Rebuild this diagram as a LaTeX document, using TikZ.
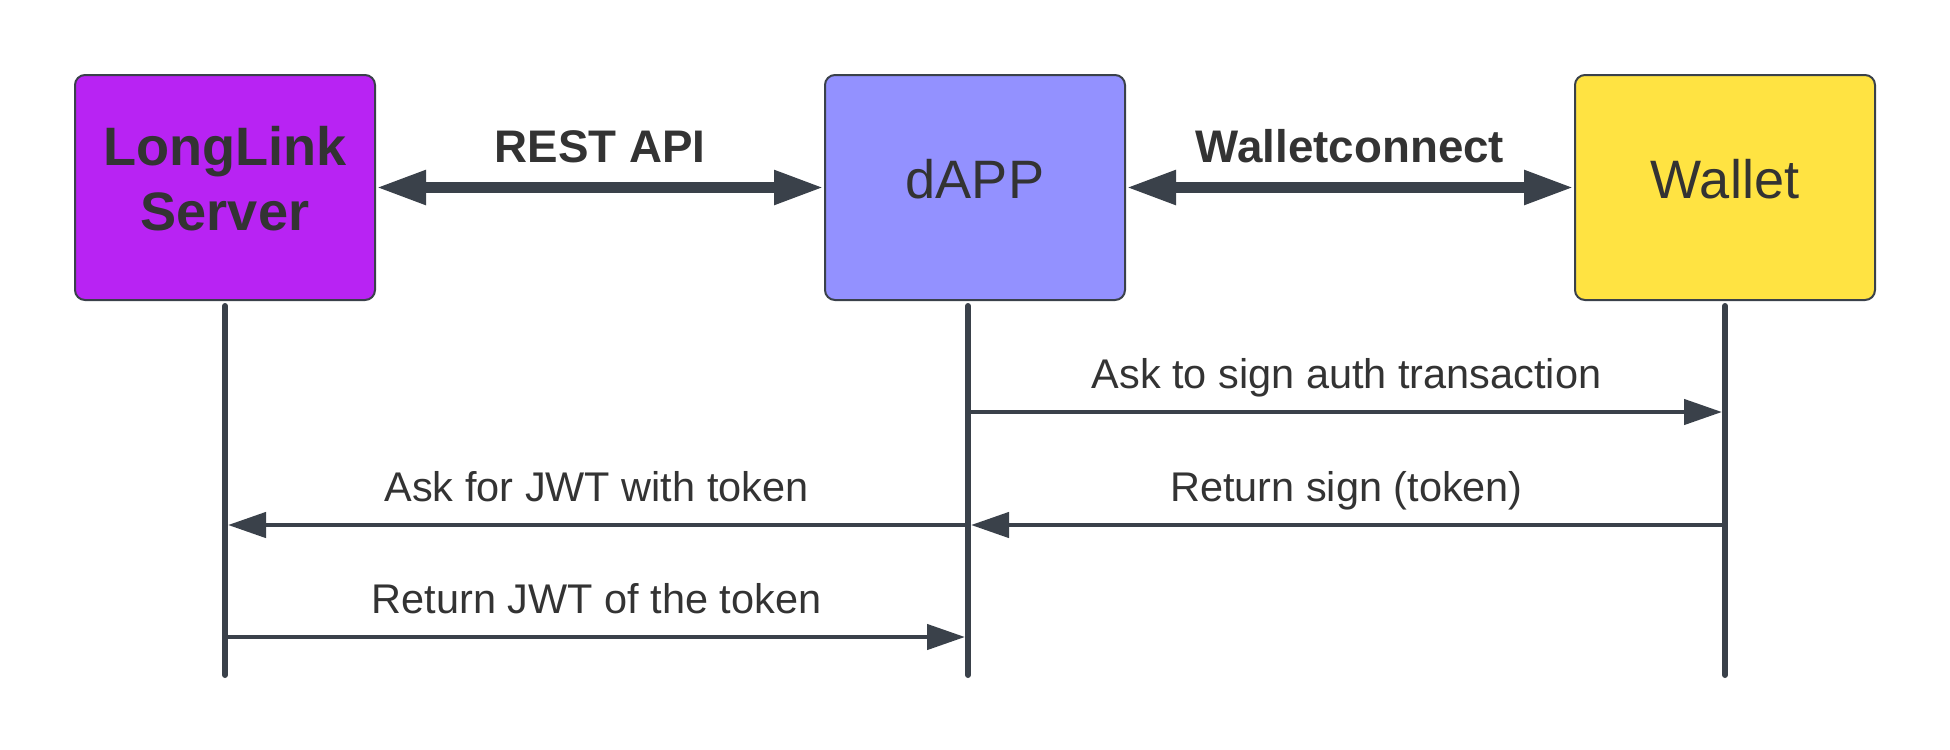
\documentclass[tikz,border=0pt]{standalone}
\usepackage{fontspec}
\setmainfont{Liberation Sans}
\usetikzlibrary{arrows.meta, positioning}

\definecolor{linegray}{HTML}{3A414A}
\definecolor{textgray}{HTML}{333333}
\definecolor{serverpurple}{HTML}{B823F3}
\definecolor{dappblue}{HTML}{9391FF}
\definecolor{walletyellow}{HTML}{FFE342}

\begin{document}
\begin{tikzpicture}[
    node distance=4.48cm, % horizontal gap between the participant boxes
    actor/.style={rectangle, draw=linegray, line width=0.2mm, rounded corners=1mm, minimum width=3cm, minimum height=2.25cm, align=center, text=textgray, font=\fontsize{15.4}{18.5}\selectfont, execute at end node={\rule[-1.8mm]{0pt}{1.8mm}}},
    link/.style={{Triangle[length=5mm, width=3.2mm]}-{Triangle[length=5mm, width=3.2mm]}, line width=1.1mm, draw=linegray},
    lifeline/.style={line width=0.6mm, draw=linegray, line cap=round},
    msg/.style={-{Triangle[length=3.8mm, width=2.5mm]}, line width=0.45mm, draw=linegray, shorten >=0.3mm},
    linklabel/.style={anchor=base, yshift=2.5mm, text=textgray, font=\fontsize{13}{15}\selectfont\bfseries},
    msglabel/.style={anchor=base, yshift=2.4mm, text=textgray, font=\fontsize{11.8}{14}\selectfont}
]
\useasboundingbox (0,0) rectangle (19.5,-7.5);

% Participants
\node[actor, fill=serverpurple, font=\fontsize{15.4}{18.5}\selectfont\bfseries] (server) at (2.25,-1.875) {LongLink\\Server};
\node[actor, fill=dappblue, right=of server] (dapp) {dAPP};
\node[actor, fill=walletyellow, right=of dapp] (wallet) {Wallet};

% Connections between the boxes
\draw[link] (server) -- node[linklabel] {REST API} (dapp);
\draw[link] (dapp) -- node[linklabel] {Walletconnect} (wallet);

% Lifelines
\coordinate (server-top) at ([yshift=-0.05cm]server.south);
\coordinate (server-end) at ([yshift=-3.74cm]server.south);
\coordinate (dapp-top) at ([xshift=-0.07cm, yshift=-0.05cm]dapp.south);
\coordinate (dapp-end) at ([xshift=-0.07cm, yshift=-3.74cm]dapp.south);
\coordinate (wallet-top) at ([yshift=-0.05cm]wallet.south);
\coordinate (wallet-end) at ([yshift=-3.74cm]wallet.south);
\draw[lifeline] (server-top) -- (server-end);
\draw[lifeline] (dapp-top) -- (dapp-end);
\draw[lifeline] (wallet-top) -- (wallet-end);

% Message rows
\coordinate (row1) at (0,-4.12);
\coordinate (row2) at (0,-5.25);
\coordinate (row3) at (0,-6.37);

% Messages
\draw[msg] (dapp-top |- row1) -- node[msglabel] {Ask to sign auth transaction} (wallet-top |- row1);
\draw[msg] (dapp-top |- row2) -- node[msglabel] {Ask for JWT with token} (server-top |- row2);
\draw[msg] (wallet-top |- row2) -- node[msglabel] {Return sign (token)} (dapp-top |- row2);
\draw[msg] (server-top |- row3) -- node[msglabel] {Return JWT of the token} (dapp-top |- row3);

\end{tikzpicture}
\end{document}
